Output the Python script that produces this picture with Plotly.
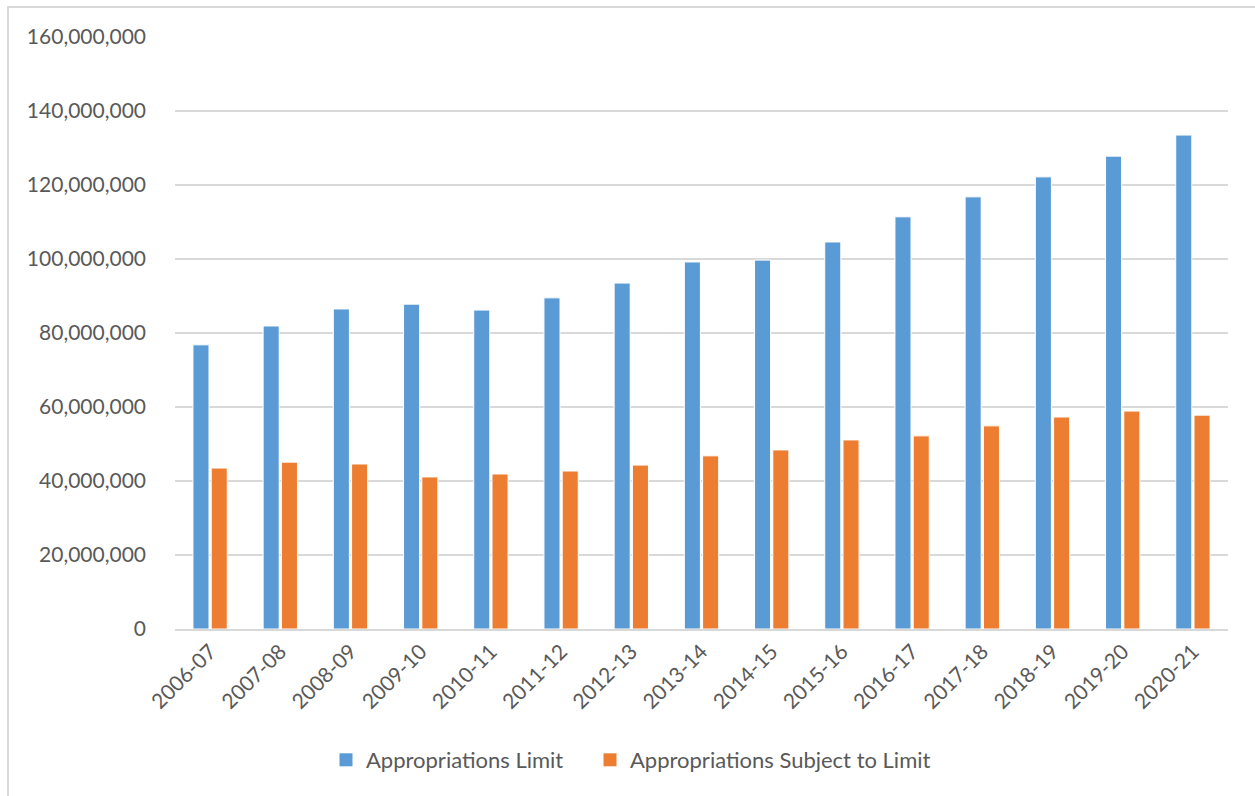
import plotly.graph_objects as go

years = ["2006-07", "2007-08", "2008-09", "2009-10", "2010-11", "2011-12", "2012-13",
         "2013-14", "2014-15", "2015-16", "2016-17", "2017-18", "2018-19", "2019-20", "2020-21"]
approp_limit = [76.8, 81.9, 86.5, 87.8, 86.2, 89.5, 93.5, 99.2, 99.7, 104.6, 111.4, 116.8, 122.2, 127.8, 133.5]
approp_subject = [43.5, 45.1, 44.6, 41.1, 41.9, 42.7, 44.3, 46.8, 48.4, 51.1, 52.2, 54.9, 57.3, 58.9, 57.8]
approp_limit = [v * 1e6 for v in approp_limit]
approp_subject = [v * 1e6 for v in approp_subject]
series_names = ["Appropriations Limit", "Appropriations Subject to Limit"]
colors = ["#5b9bd5", "#ed7d31"]

FONT = "Lato"
TXT = "#595959"

fig = go.Figure()
for vals, name, col in zip([approp_limit, approp_subject], series_names, colors):
    fig.add_trace(go.Bar(x=years, y=vals, name=name, showlegend=False,
                         marker=dict(color=col, line=dict(color="white", width=1))))
# legend entries with larger square swatches
for name, col, lg in zip(series_names, colors, ["legend", "legend2"]):
    fig.add_trace(go.Scatter(x=[None], y=[None], mode="markers", name=name, legend=lg,
                             marker=dict(symbol="square", size=13, color=col)))

L, R, T, B = 175, 27, 37, 167
W, H = 1255, 796
pw, ph = W - L - R, H - T - B

leg_common = dict(orientation="h", xanchor="left", y=(629 - 760) / ph, yanchor="middle",
                  font=dict(family=FONT, size=22, color=TXT), itemwidth=30, bgcolor="rgba(0,0,0,0)")

fig.update_layout(
    width=W, height=H,
    margin=dict(l=L, r=R, t=T, b=B),
    plot_bgcolor="white", paper_bgcolor="white",
    barmode="group", bargap=0.48, bargroupgap=0.12,
    font=dict(family=FONT, size=21, color=TXT),
    showlegend=True,
    legend=dict(x=(326 - L) / pw, **leg_common),
    legend2=dict(x=(590 - L) / pw, **leg_common),
    xaxis=dict(type="category", tickangle=-45, showgrid=False, showline=True, linecolor="#d9d9d9",
               linewidth=2, ticks="", tickfont=dict(family=FONT, size=21, color=TXT)),
    yaxis=dict(range=[0, 160e6], dtick=20e6, tickformat=",d", showgrid=True, gridcolor="#d9d9d9",
               gridwidth=1.5, zeroline=False, showline=False, ticks="", ticklabelstandoff=28,
               tickfont=dict(family=FONT, size=21, color=TXT)),
    shapes=[dict(type="rect", xref="paper", yref="paper",
                 x0=(8 - L) / pw, x1=(W + 10 - L) / pw,
                 y0=(629 - (H + 10)) / ph, y1=1 + (T - 7) / ph,
                 line=dict(color="#d9d9d9", width=2), fillcolor="rgba(0,0,0,0)", layer="below")],
)

fig.write_html("out.html")
